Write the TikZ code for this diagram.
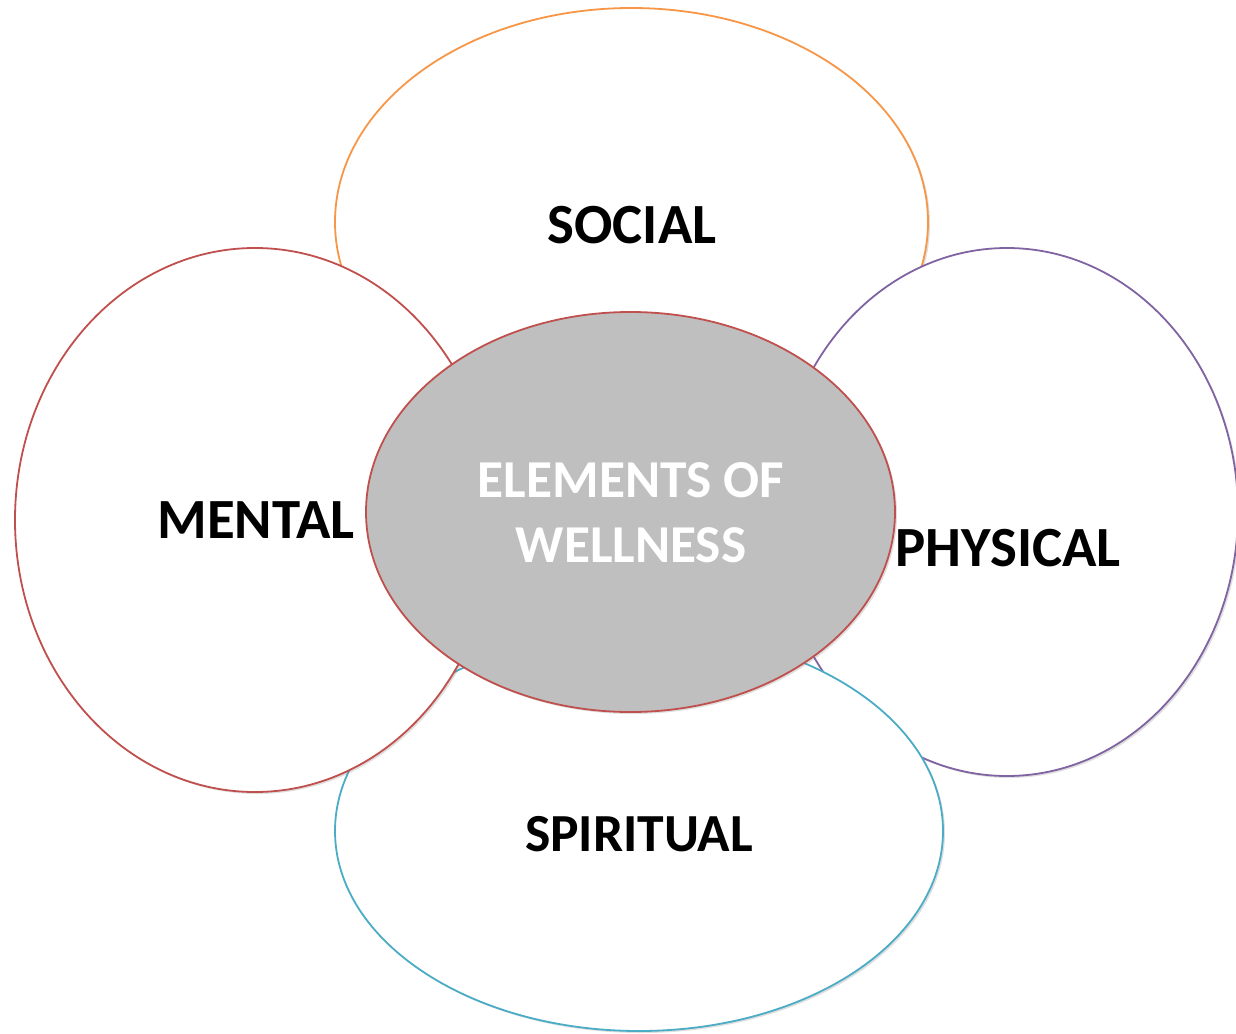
\documentclass[tikz,border=0pt]{standalone}
\usepackage{fontspec}
\setmainfont{Carlito}
\usetikzlibrary{shapes.geometric,shadows}
\definecolor{socialc}{HTML}{F79646}
\definecolor{mentalc}{HTML}{C0504D}
\definecolor{physc}{HTML}{8064A2}
\definecolor{spirc}{HTML}{4BACC6}
\definecolor{greyc}{HTML}{BFBFBF}
\tikzset{
  petal/.style={ellipse, draw=#1, line width=1.8pt, fill=white, inner sep=0pt,
    drop shadow={opacity=0.25, shadow xshift=2pt, shadow yshift=-2pt}},
  lbl/.style={font=\bfseries\fontsize{56.8}{64}\selectfont, text=black, inner sep=0pt, anchor=base},
  clbl/.style={font=\bfseries\fontsize{53.3}{64}\selectfont, text=white, inner sep=0pt, anchor=base},
}
\begin{document}
\begin{tikzpicture}[x=1pt,y=-1pt]
\useasboundingbox (0,0) rectangle (1236,1033);
\node[petal=socialc, minimum width=593pt, minimum height=428pt] (social) at (631.5,222) {};
\node[petal=physc, minimum width=462pt, minimum height=528pt] (physical) at (1007,512) {};
\node[petal=spirc, minimum width=608pt, minimum height=400pt] (spiritual) at (639,831) {};
\node[petal=mentalc, minimum width=480pt, minimum height=544pt] (mental) at (255,520) {};
\node[petal=mentalc, fill=greyc, minimum width=529pt, minimum height=400pt] (center) at (630.5,512) {};
\node[lbl] (tsocial) at (632,243) {SOCIAL};
\node[lbl] (tmental) at (256,538) {MENTAL};
\node[lbl] (tphys) at (1008,566) {PHYSICAL};
\node[lbl, font=\bfseries\fontsize{53.6}{64}\selectfont] (tspir) at (639,851) {SPIRITUAL};
\node[clbl] (tc1) at (631,497) {ELEMENTS OF};
\node[clbl] (tc2) at (631,562) {WELLNESS};
\end{tikzpicture}
\end{document}
